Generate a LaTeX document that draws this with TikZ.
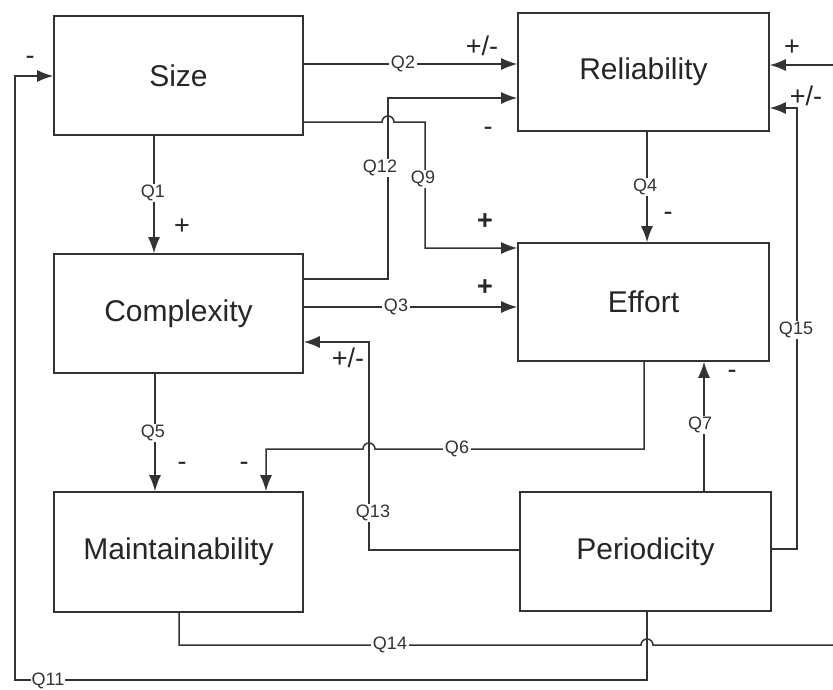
\documentclass[tikz,border=0pt]{standalone}
\usepackage{fontspec}
\setmainfont{Liberation Sans}
\usetikzlibrary{arrows.meta}
\begin{document}
\begin{tikzpicture}[x=1pt,y=-1pt,
  box/.style={draw=black!80, line width=1.6pt, minimum width=249pt, minimum height=119pt, inner sep=0pt, font=\fontsize{30}{32}\selectfont, text=black!85},
  wire/.style={line width=1.5pt, draw=black!80},
  arr/.style={wire, -{Latex[length=16pt,width=12pt]}},
  ql/.style={fill=white, inner sep=1.5pt, font=\fontsize{18}{20}\selectfont, text=black!80},
  sg/.style={font=\fontsize{27}{28}\selectfont, text=black!85, inner sep=0pt},
  sgb/.style={sg, font=\fontsize{27}{28}\selectfont\bfseries}
]
\useasboundingbox (0,0) rectangle (833,689);
\fill[white] (0,0) rectangle (833,689);

\node[box] (size) at (178.5,75.5) {Size};
\node[box, minimum width=251pt, minimum height=118pt] (rel) at (643.5,72) {Reliability};
\node[box] (cpx) at (178.5,313.5) {Complexity};
\node[box, minimum width=251pt, minimum height=118pt] (eff) at (643.5,302) {Effort};
\node[box, minimum height=120pt] (mnt) at (178.5,552) {Maintainability};
\node[box, minimum width=251pt] (per) at (645.5,551.5) {Periodicity};

% Q2
\draw[arr] (size.east |- 0,64) -- (rel.west |- 0,64);
\node[ql] (q2) at (403,64) {Q2};
% Q12
\draw[arr] (cpx.east |- 0,279) -- (388,279) -- (388,98) -- (rel.west |- 0,98);
\node[ql] (q12) at (380,168) {Q12};
% Q9
\draw[arr] (size.east |- 0,122) -- (382,122) arc[start angle=180,end angle=0,radius=6pt] -- (425,122) -- (425,248) -- (eff.west |- 0,248);
\node[ql] (q9) at (423,179) {Q9};
% Q1
\draw[arr] (size.south -| 154,0) -- (cpx.north -| 154,0);
\node[ql] (q1) at (153,193) {Q1};
% Q3
\draw[arr] (cpx.east |- 0,307) -- (eff.west |- 0,307);
\node[ql] (q3) at (396,307) {Q3};
% Q4
\draw[arr] (rel.south -| 647,0) -- (eff.north -| 647,0);
\node[ql] (q4) at (645,187) {Q4};
% Q13
\draw[arr] (per.west |- 0,550) -- (369,550) -- (369,342) -- (cpx.east |- 0,342);
\node[ql] (q13) at (373,513) {Q13};
% Q6
\draw[arr] (eff.south -| 644,0) -- (644,449) -- (375,449) arc[start angle=0,end angle=180,radius=6pt] -- (266,449) -- (mnt.north -| 266,0);
\node[ql] (q6) at (457,449) {Q6};
% Q5
\draw[arr] (cpx.south -| 155,0) -- (mnt.north -| 155,0);
\node[ql] (q5) at (153,433) {Q5};
% Q7
\draw[arr] (per.north -| 704,0) -- (eff.south -| 704,0);
\node[ql] (q7) at (700,425) {Q7};
% Q15
\draw[arr] (per.east |- 0,549) -- (797,549) -- (797,108) -- (rel.east |- 0,108);
\node[ql] (q15) at (796,330) {Q15};
% Q11
\draw[arr] (per.south -| 647,0) -- (647,680) -- (15,680) -- (15,76) -- (size.west |- 0,76);
\node[ql, inner sep=1pt] (q11) at (48,681) {Q11};
% Q14
\coordinate (edgeA) at (840,645);
\draw[wire] (mnt.south -| 179,0) -- (179,645) -- (641,645) arc[start angle=180,end angle=0,radius=6pt] -- (edgeA);
\node[ql] (q14) at (390,645) {Q14};
% incoming from right
\coordinate (edgeB) at (840,65);
\draw[arr] (edgeB) -- (rel.east |- 0,65);

% signs
\node[sg] (s1) at (482,46) {+/-};
\node[sg] (s2) at (488,131) {-};
\node[sgb] (s3) at (485,222) {+};
\node[sg] (s4) at (668,216) {-};
\node[sg] (s5) at (792,48) {+};
\node[sg] (s6) at (806,96) {+/-};
\node[sg] (s7) at (182,227) {+};
\node[sg] (s8) at (30,60) {-};
\node[sgb] (s9) at (485,288) {+};
\node[sg] (s10) at (732,374) {-};
\node[sg] (s11) at (348,358) {+/-};
\node[sg] (s12) at (182,466) {-};
\node[sg] (s13) at (244,466) {-};
\end{tikzpicture}
\end{document}
